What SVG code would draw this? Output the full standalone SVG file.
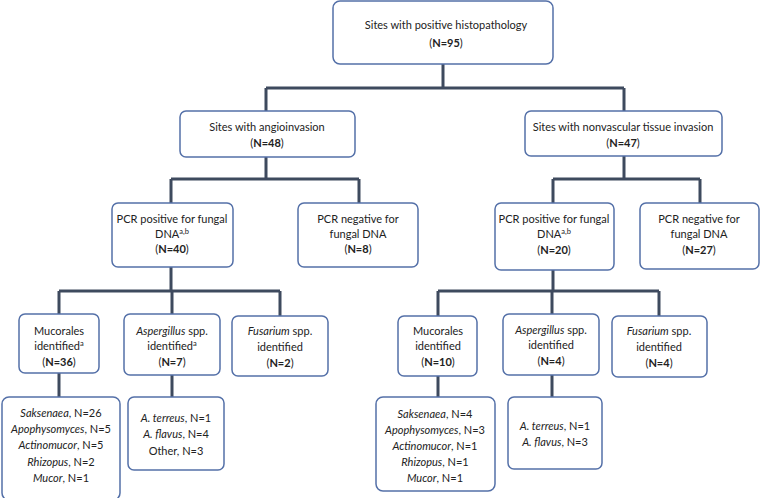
<svg xmlns="http://www.w3.org/2000/svg" width="760" height="498" viewBox="0 0 760 498">
<style>
.box{fill:#fff;stroke:#5470a8;stroke-width:1.5}
text{font-family:Lato,"Liberation Sans",sans-serif;font-size:11px;fill:#222;text-anchor:middle}
.b{font-weight:bold}
.i{font-style:italic}
.sup{font-size:7.5px}
.conn{fill:none;stroke:#3e4a5e;stroke-width:3}
</style>
<rect width="760" height="498" fill="#fff"/>
<g id="connectors" class="conn">
<path d="M443 64V88M266 88H624M266 88V111M624 88V111"/>
<path d="M266 157V179M171 179H359M171 179V203M359 179V203"/>
<path d="M624 156V179M553 179H700M553 179V203M700 179V203"/>
<path d="M171 266V291M59 291H280M59 291V316M172 291V314M280 291V316"/>
<path d="M553 270V291M438 291H659M438 291V316M552 291V314M659 291V316"/>
<path d="M59 373V397M172 375V397M438 376V397M552 375V397"/>
</g>
<g id="n_top"><rect class="box" x="333" y="1" width="220" height="63" rx="7"/>
<text x="446" y="29">Sites with positive histopathology</text>
<text x="446" y="47">(<tspan class="b">N=95</tspan>)</text></g>
<g id="n_angio"><rect class="box" x="180" y="111" width="175" height="46" rx="6"/>
<text x="267" y="131">Sites with angioinvasion</text>
<text x="267" y="147">(<tspan class="b">N=48</tspan>)</text></g>
<g id="n_nonvasc"><rect class="box" x="525" y="111" width="197" height="45" rx="6"/>
<text x="623" y="131">Sites with nonvascular tissue invasion</text>
<text x="623" y="147">(<tspan class="b">N=47</tspan>)</text></g>
<g id="n_pos_l"><rect class="box" x="112" y="203" width="121" height="64" rx="6"/>
<text x="172" y="223">PCR positive for fungal</text>
<text x="172" y="238">DNA<tspan class="sup" dy="-4">a,b</tspan></text>
<text x="172" y="253">(<tspan class="b">N=40</tspan>)</text></g>
<g id="n_neg_l"><rect class="box" x="298" y="203" width="120" height="64" rx="6"/>
<text x="358" y="223">PCR negative for</text>
<text x="358" y="238">fungal DNA</text>
<text x="358" y="253">(<tspan class="b">N=8</tspan>)</text></g>
<g id="n_pos_r"><rect class="box" x="495" y="203" width="119" height="67" rx="6"/>
<text x="554" y="223">PCR positive for fungal</text>
<text x="554" y="238">DNA<tspan class="sup" dy="-4">a,b</tspan></text>
<text x="554" y="254">(<tspan class="b">N=20</tspan>)</text></g>
<g id="n_neg_r"><rect class="box" x="640" y="203" width="119" height="66" rx="6"/>
<text x="699" y="223">PCR negative for</text>
<text x="699" y="238">fungal DNA</text>
<text x="699" y="254">(<tspan class="b">N=27</tspan>)</text></g>
<g id="n_muc_l"><rect class="box" x="19" y="314" width="80" height="59" rx="6"/>
<text x="59" y="335">Mucorales</text>
<text x="59" y="350">identified<tspan class="sup" dy="-4">a</tspan></text>
<text x="59" y="366">(<tspan class="b">N=36</tspan>)</text></g>
<g id="n_asp_l"><rect class="box" x="124" y="314" width="96" height="61" rx="6"/>
<text x="172" y="335"><tspan class="i">Aspergillus</tspan> spp.</text>
<text x="172" y="350">identified<tspan class="sup" dy="-4">a</tspan></text>
<text x="172" y="366">(<tspan class="b">N=7</tspan>)</text></g>
<g id="n_fus_l"><rect class="box" x="232" y="316" width="96" height="60" rx="6"/>
<text x="280" y="335"><tspan class="i">Fusarium</tspan> spp.</text>
<text x="280" y="351">identified</text>
<text x="280" y="367">(<tspan class="b">N=2</tspan>)</text></g>
<g id="n_muc_r"><rect class="box" x="398" y="316" width="79" height="60" rx="6"/>
<text x="438" y="335">Mucorales</text>
<text x="438" y="350">identified</text>
<text x="438" y="366">(<tspan class="b">N=10</tspan>)</text></g>
<g id="n_asp_r"><rect class="box" x="503" y="314" width="96" height="61" rx="6"/>
<text x="551" y="334"><tspan class="i">Aspergillus</tspan> spp.</text>
<text x="551" y="349">identified</text>
<text x="551" y="365">(<tspan class="b">N=4</tspan>)</text></g>
<g id="n_fus_r"><rect class="box" x="612" y="316" width="95" height="61" rx="6"/>
<text x="659" y="335"><tspan class="i">Fusarium</tspan> spp.</text>
<text x="659" y="351">identified</text>
<text x="659" y="367">(<tspan class="b">N=4</tspan>)</text></g>
<g id="n_muclist_l"><rect class="box" x="2" y="397" width="118" height="103" rx="7"/>
<text x="61" y="417"><tspan class="i">Saksenaea</tspan>, N=26</text>
<text x="61" y="433"><tspan class="i">Apophysomyces</tspan>, N=5</text>
<text x="61" y="449"><tspan class="i">Actinomucor</tspan>, N=5</text>
<text x="61" y="466"><tspan class="i">Rhizopus</tspan>, N=2</text>
<text x="61" y="482"><tspan class="i">Mucor</tspan>, N=1</text></g>
<g id="n_asplist_l"><rect class="box" x="128" y="397" width="96" height="73" rx="6"/>
<text x="176" y="422"><tspan class="i">A. terreus</tspan>, N=1</text>
<text x="176" y="438"><tspan class="i">A. flavus</tspan>, N=4</text>
<text x="176" y="455">Other, N=3</text></g>
<g id="n_muclist_r"><rect class="box" x="376" y="397" width="119" height="94" rx="7"/>
<text x="435" y="418"><tspan class="i">Saksenaea</tspan>, N=4</text>
<text x="435" y="434"><tspan class="i">Apophysomyces</tspan>, N=3</text>
<text x="435" y="450"><tspan class="i">Actinomucor</tspan>, N=1</text>
<text x="435" y="466"><tspan class="i">Rhizopus</tspan>, N=1</text>
<text x="435" y="482"><tspan class="i">Mucor</tspan>, N=1</text></g>
<g id="n_asplist_r"><rect class="box" x="508" y="397" width="94" height="72" rx="6"/>
<text x="555" y="430"><tspan class="i">A. terreus</tspan>, N=1</text>
<text x="555" y="446"><tspan class="i">A. flavus</tspan>, N=3</text></g>
</svg>
